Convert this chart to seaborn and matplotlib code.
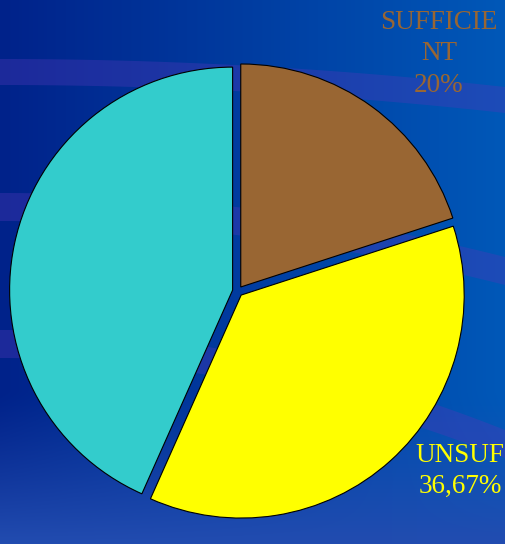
import numpy as np
import matplotlib
matplotlib.use("Agg")
import matplotlib.pyplot as plt
import seaborn as sns

# chart data
labels = ["SUFFICIE\nNT", "UNSUF", ""]
values = [20.0, 36.67, 43.33]
colors = ["#996633", "#FFFF00", "#33CCCC"]
pct_text = ["20%", "36,67%", ""]

sns.set_theme(style="white")
plt.rcParams['font.family'] = ['Liberation Serif', 'DejaVu Serif']

W, H = 505, 544
fig = plt.figure(figsize=(W / 100, H / 100), dpi=100)
ax = fig.add_axes([0, 0, 1, 1])

# background: blue gradient, purple tint toward the bottom
xs = np.linspace(0, 1, W)[None, :, None]
ys = np.linspace(0, 1, H)[:, None, None]
left = np.array([0, 34, 138]) / 255
right = np.array([0, 88, 184]) / 255
bottom = np.array([34, 76, 176]) / 255
bg = left * (1 - xs) + right * xs
w = np.clip((ys - 0.72) / 0.28, 0, 1) ** 1.2
bg = bg * (1 - w) + bottom * w
ax.imshow(bg, extent=(0, W, 0, H), origin="upper", zorder=0, aspect="auto")

# light swooshes
bx = np.linspace(0, W, 200)
for y0, dy, th in [(59, 28, 26), (193, 64, 28), (330, 100, 28)]:
    top = y0 + dy * (bx / W) ** 2
    ax.fill_between(bx, H - top, H - top - th, color=(80 / 255, 55 / 255, 185 / 255),
                    alpha=0.36, lw=0, zorder=1)

wedges, _ = ax.pie(values, colors=colors, startangle=90, counterclock=False,
                   explode=[5.2] * 3, center=(237.7, H - 291.2), radius=223,
                   wedgeprops=dict(edgecolor="black", linewidth=0.8), frame=True)
for wd in wedges:
    wd.set_zorder(3)

# va="baseline" anchors on the last line
ax.text(439, H - 92, f"{labels[0]}\n{pct_text[0]}", color=colors[0], fontsize=19.5,
        ha="center", va="baseline", multialignment="center", linespacing=1.35, zorder=4)
ax.text(460, H - 493, f"{labels[1]}\n{pct_text[1]}", color=colors[1], fontsize=19.5,
        ha="center", va="baseline", multialignment="center", linespacing=1.3, zorder=4)

ax.set_xlim(0, W)
ax.set_ylim(0, H)
ax.set_aspect("auto")
ax.axis("off")

fig.savefig("out.png", dpi=100)
